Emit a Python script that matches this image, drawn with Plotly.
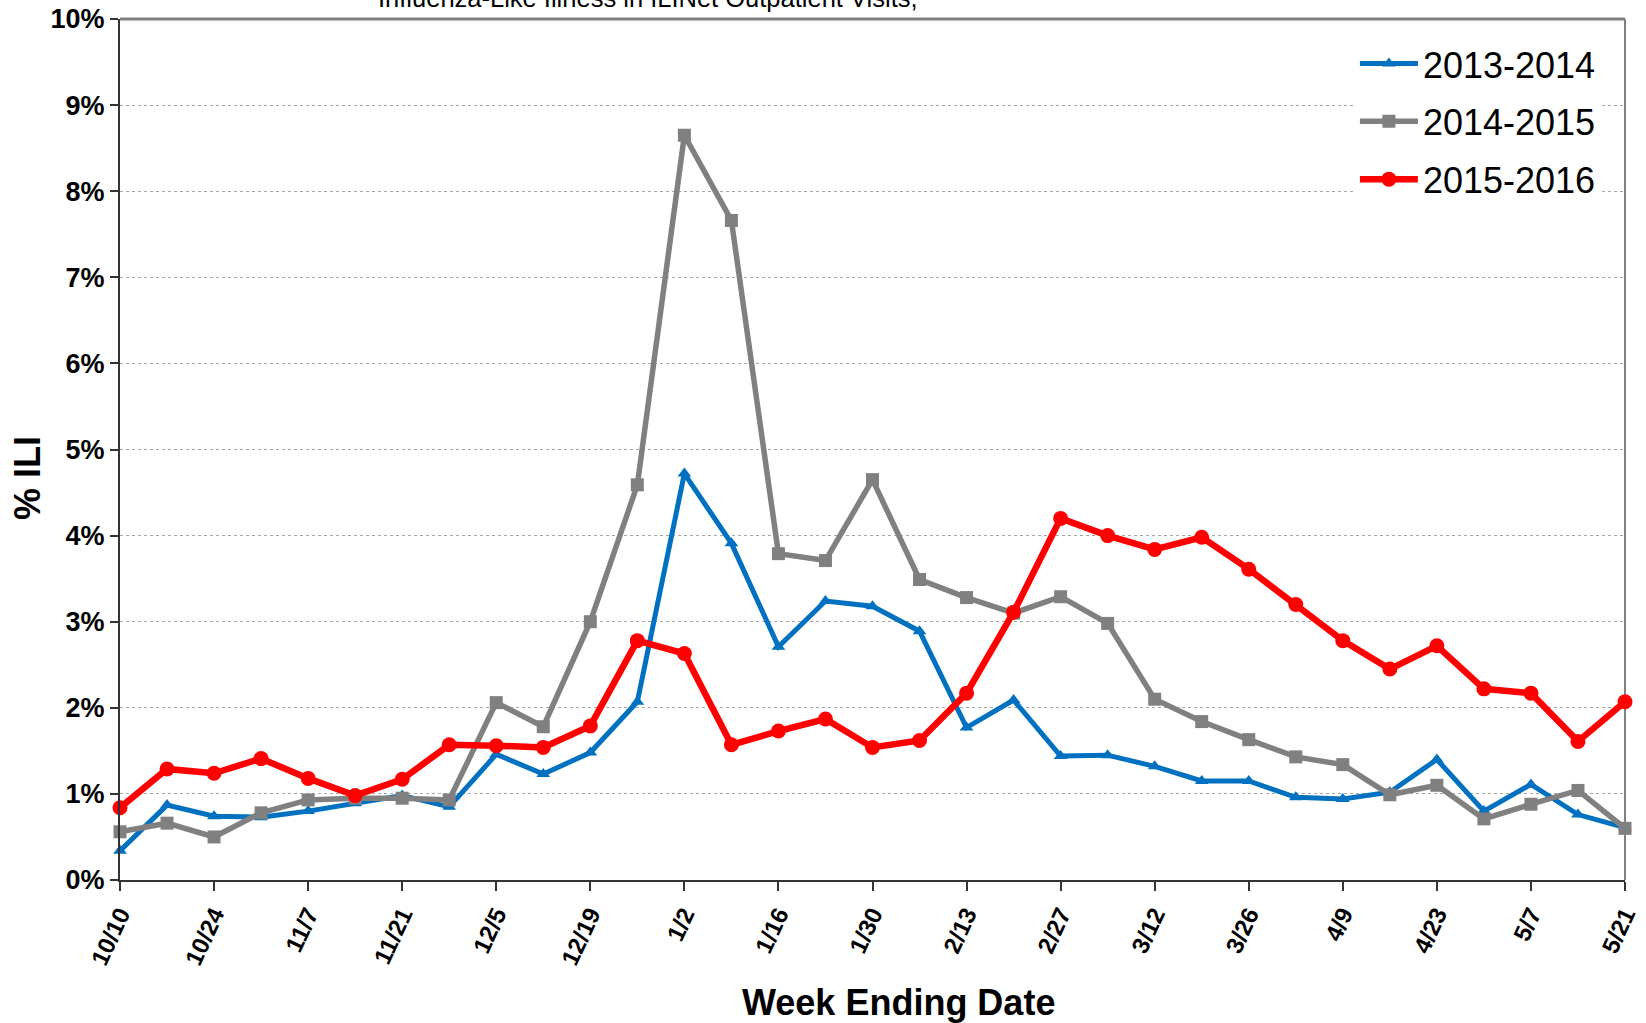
import plotly.graph_objects as go

weeks = ["10/10", "10/17", "10/24", "10/31", "11/7", "11/14", "11/21", "11/28",
         "12/5", "12/12", "12/19", "12/26", "1/2", "1/9", "1/16", "1/23", "1/30",
         "2/6", "2/13", "2/20", "2/27", "3/5", "3/12", "3/19", "3/26", "4/2",
         "4/9", "4/16", "4/23", "4/30", "5/7", "5/14", "5/21"]

season_2013_2014 = [0.34, 0.87, 0.74, 0.73, 0.80, 0.89, 0.98, 0.85, 1.46, 1.23, 1.48,
                    2.07, 4.72, 3.91, 2.71, 3.24, 3.18, 2.89, 1.77, 2.09, 1.44, 1.45,
                    1.32, 1.15, 1.15, 0.96, 0.94, 1.02, 1.40, 0.80, 1.11, 0.76, 0.61]

season_2014_2015 = [0.56, 0.66, 0.50, 0.78, 0.93, 0.95, 0.95, 0.93, 2.06, 1.78, 3.00,
                    4.59, 8.65, 7.66, 3.79, 3.71, 4.65, 3.49, 3.28, 3.10, 3.29, 2.98,
                    2.10, 1.84, 1.63, 1.43, 1.34, 0.99, 1.10, 0.71, 0.88, 1.04, 0.60]

season_2015_2016 = [0.84, 1.29, 1.24, 1.41, 1.18, 0.98, 1.17, 1.57, 1.56, 1.54, 1.79,
                    2.78, 2.63, 1.57, 1.73, 1.87, 1.54, 1.62, 2.17, 3.11, 4.20, 4.00,
                    3.84, 3.98, 3.61, 3.20, 2.78, 2.45, 2.72, 2.22, 2.17, 1.61, 2.07]

tick_labels = weeks[::2]
y_ticks = list(range(0, 11))
y_tick_text = [f"{v}%" for v in y_ticks]

FONT = "Arial, Liberation Sans, sans-serif"

fig = go.Figure()
fig.add_trace(go.Scatter(
    x=weeks, y=season_2013_2014, name="2013-2014", mode="lines+markers",
    line=dict(color="#0070C0", width=5),
    marker=dict(symbol="triangle-up", size=12, color="#0070C0"),
    cliponaxis=False, legendgroup="a"))
fig.add_trace(go.Scatter(
    x=weeks, y=season_2014_2015, name="2014-2015", mode="lines+markers",
    line=dict(color="#808080", width=5.5),
    marker=dict(symbol="square", size=13, color="#808080"),
    cliponaxis=False, legendgroup="b"))
fig.add_trace(go.Scatter(
    x=weeks, y=season_2015_2016, name="2015-2016", mode="lines+markers",
    line=dict(color="#FF0000", width=6.5),
    marker=dict(symbol="circle", size=15, color="#FF0000"),
    cliponaxis=False, legendgroup="c"))

fig.update_layout(
    width=1646, height=1023,
    margin=dict(l=120, r=21, t=19, b=143, autoexpand=False),
    paper_bgcolor="white", plot_bgcolor="white",
    font=dict(family=FONT, color="black"),
    showlegend=True,
    legend=dict(x=0.984, xanchor="right", y=0.983, yanchor="top",
                bgcolor="white", borderwidth=0,
                font=dict(size=36, family=FONT, color="black"),
                tracegroupgap=8, itemwidth=58, traceorder="grouped"),
    annotations=[
        dict(text="Influenza-Like Illness in ILINet Outpatient Visits,",
             xref="paper", yref="paper", x=0.351, y=1, xanchor="center",
             yanchor="bottom", yshift=5, showarrow=False,
             font=dict(size=25.5, family=FONT, color="black")),
        dict(text="<b>Week Ending Date</b>", xref="paper", yref="paper",
             x=0.517, y=0, xanchor="center", yanchor="middle", yshift=-122,
             showarrow=False, font=dict(size=36, family=FONT, color="black")),
        dict(text="<b>% ILI</b>", xref="paper", yref="paper",
             x=0, y=0.467, xanchor="center", yanchor="middle", xshift=-92,
             textangle=-90, showarrow=False,
             font=dict(size=36, family=FONT, color="black")),
    ],
    shapes=[
        dict(type="line", xref="paper", yref="paper", x0=0, x1=1, y0=1, y1=1,
             line=dict(color="#808080", width=3), layer="below"),
        dict(type="line", xref="paper", yref="paper", x0=1, x1=1, y0=0, y1=1,
             line=dict(color="#808080", width=2), layer="below"),
    ],
)

fig.update_xaxes(
    type="category", range=[0, len(weeks) - 1], automargin=False,
    tickmode="array", tickvals=tick_labels, ticktext=tick_labels,
    tickangle=-65, tickfont=dict(size=24, family=FONT, color="black", weight="bold"),
    ticks="outside", ticklen=9, tickwidth=2, tickcolor="#333",
    showline=True, linecolor="#333", linewidth=2, showgrid=False, zeroline=False,
)
fig.update_yaxes(
    range=[0, 10], automargin=False, tickmode="array", tickvals=y_ticks,
    ticktext=y_tick_text,
    tickfont=dict(size=27, family=FONT, color="black", weight="bold"),
    ticks="outside", ticklen=8, tickwidth=2, tickcolor="#333",
    showline=True, linecolor="#333", linewidth=2,
    showgrid=True, gridcolor="#a6a6a6", gridwidth=1, griddash="dot", zeroline=False,
)

fig.write_html("out.html",
               config={"displayModeBar": False},
               post_script="document.body.style.margin='0';document.body.style.overflow='hidden';")
